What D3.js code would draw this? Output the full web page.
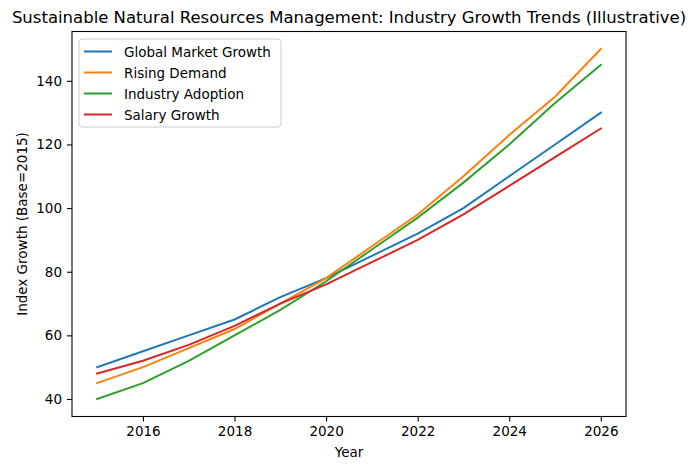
<!DOCTYPE html>
<html>
  <script src="https://d3js.org/d3.v7.min.js" type="text/JavaScript"></script>
  <style>
    body { margin: 0; background: #fff; }
    text { font-family: "DejaVu Sans", sans-serif; fill: #000; }
  </style>
  <body>
    <svg></svg>
    <script>
var years = [2015, 2016, 2017, 2018, 2019, 2020, 2021, 2022, 2023, 2024, 2025, 2026];
var globalMarket = [50, 55, 60, 65, 72, 78, 85, 92, 100, 110, 120, 130];
var risingDemand = [45, 50, 56, 62, 70, 78, 88, 98, 110, 123, 135, 150];
var industryAdoption = [40, 45, 52, 60, 68, 77, 87, 97, 108, 120, 133, 145];
var salaryGrowth = [48, 52, 57, 63, 70, 76, 83, 90, 98, 107, 116, 125];
var seriesNames = ['Global Market Growth', 'Rising Demand', 'Industry Adoption', 'Salary Growth'];
var seriesColors = ['#1f77b4', '#ff7f0e', '#2ca02c', '#d62728'];
var xTicks = [2016, 2018, 2020, 2022, 2024, 2026];
var yTicks = [40, 60, 80, 100, 120, 140];

var series = [globalMarket, risingDemand, industryAdoption, salaryGrowth].map((vals, i) => ({
  name: seriesNames[i],
  color: seriesColors[i],
  values: vals.map((v, j) => ({ year: years[j], value: v }))
}));

var W = 699, H = 470;
var pLeft = 72, pRight = 626, pTop = 31.5, pBottom = 416.5;

var svg = d3.select('svg').attr('width', W).attr('height', H);

// matplotlib style 5% margins
var xPad = (2026 - 2015) * 0.05;
var yPad = (150 - 40) * 0.05;
var x = d3.scaleLinear().domain([2015 - xPad, 2026 + xPad]).range([pLeft, pRight]);
var y = d3.scaleLinear().domain([40 - yPad, 150 + yPad]).range([pBottom, pTop]);

var line = d3.line().x(d => x(d.year)).y(d => y(d.value));

svg.append('g')
  .selectAll('path')
  .data(series)
  .enter()
  .append('path')
    .attr('d', d => line(d.values))
    .style('fill', 'none')
    .style('stroke', d => d.color)
    .style('stroke-width', '2px')
    .style('stroke-linecap', 'square');

// axes
var xAxis = svg.append('g')
  .attr('transform', `translate(0, ${pBottom})`)
  .call(d3.axisBottom(x).tickValues(xTicks).tickFormat(d3.format('d')).tickSize(5).tickPadding(5));
var yAxis = svg.append('g')
  .attr('transform', `translate(${pLeft}, 0)`)
  .call(d3.axisLeft(y).tickValues(yTicks).tickFormat(d3.format('d')).tickSize(5).tickPadding(5));

[xAxis, yAxis].forEach(a => {
  a.select('.domain').remove();
  a.selectAll('.tick line').style('stroke', '#000').style('stroke-width', '1.1px');
  a.selectAll('.tick text').style('font-size', '13.5px').style('font-family', '"DejaVu Sans", sans-serif');
});

// frame
svg.append('rect')
  .attr('x', pLeft).attr('y', pTop)
  .attr('width', pRight - pLeft).attr('height', pBottom - pTop)
  .style('fill', 'none')
  .style('stroke', '#000')
  .style('stroke-width', '1.1px');

// title and labels
svg.append('text')
  .attr('x', (pLeft + pRight) / 2).attr('y', 23)
  .attr('text-anchor', 'middle')
  .style('font-size', '16.5px')
  .text('Sustainable Natural Resources Management: Industry Growth Trends (Illustrative)');

svg.append('text')
  .attr('x', (pLeft + pRight) / 2).attr('y', 457)
  .attr('text-anchor', 'middle')
  .style('font-size', '13.5px')
  .text('Year');

svg.append('text')
  .attr('transform', `translate(27, ${(pTop + pBottom) / 2}) rotate(-90)`)
  .attr('text-anchor', 'middle')
  .style('font-size', '13.5px')
  .text('Index Growth (Base=2015)');

// legend
var legend = svg.append('g').attr('transform', 'translate(79, 39)');
legend.append('rect')
  .attr('width', 202).attr('height', 88)
  .attr('rx', 3)
  .style('fill', '#fff')
  .style('fill-opacity', 0.8)
  .style('stroke', '#cccccc')
  .style('stroke-width', '1px');

var items = legend.selectAll('g.item')
  .data(series)
  .enter()
  .append('g')
    .attr('class', 'item')
    .attr('transform', (d, i) => `translate(0, ${12.5 + i * 21})`);

items.append('line')
  .attr('x1', 5).attr('x2', 33)
  .style('stroke', d => d.color)
  .style('stroke-width', '2px');

items.append('text')
  .attr('x', 45).attr('y', 5)
  .style('font-size', '13.5px')
  .text(d => d.name);
    </script>
  </body>
</html>
